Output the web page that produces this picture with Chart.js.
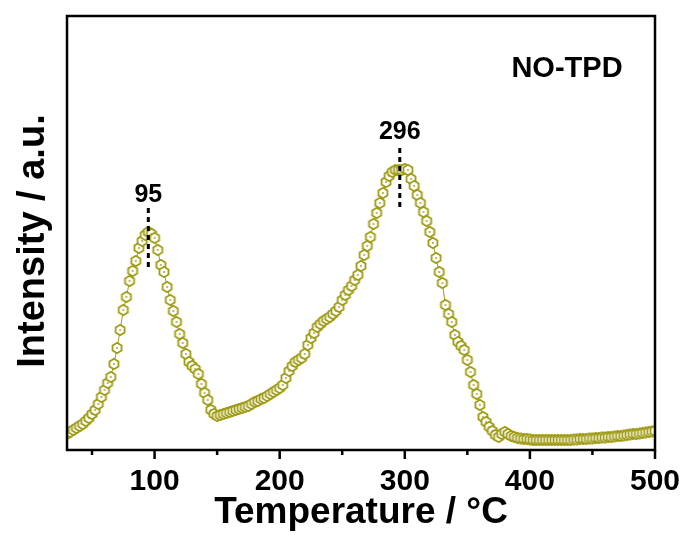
<!DOCTYPE html>
<html lang="en">

<head>
	<meta charset="UTF-8">
	<title>NO-TPD</title>
	<script src="https://cdn.jsdelivr.net/npm/chart.js@4.4.1/dist/chart.umd.min.js"></script>
	<style>
		body { margin: 0; background: #fff; }
		#box { width: 689px; height: 535px; }
	</style>
</head>

<body>
	<div id="box"><canvas id="tpd" width="689" height="535"></canvas></div>

	<script type="text/javascript">
	// temperature (°C) and NO desorption signal (a.u.)
	var temps = [
		30, 32.5, 35, 37.5, 40, 42.5, 45, 47.5, 50, 52.5,
		55, 57.5, 60, 62.5, 65, 67.5, 70, 72.5, 75, 77.5,
		80, 82.5, 85, 87.5, 90, 92.5, 95, 97.5, 100, 102.5,
		105, 107.5, 110, 112.5, 115, 117.5, 120, 122.5, 125, 127.5,
		130, 132.5, 135, 137.5, 140, 142.5, 145, 147.5, 150, 152.5,
		155, 157.5, 160, 162.5, 165, 167.5, 170, 172.5, 175, 177.5,
		180, 182.5, 185, 187.5, 190, 192.5, 195, 197.5, 200, 202.5,
		205, 207.5, 210, 212.5, 215, 217.5, 220, 222.5, 225, 227.5,
		230, 232.5, 235, 237.5, 240, 242.5, 245, 247.5, 250, 252.5,
		255, 257.5, 260, 262.5, 265, 267.5, 270, 272.5, 275, 277.5,
		280, 282.5, 285, 287.5, 290, 292.5, 295, 297.5, 300, 302.5,
		305, 307.5, 310, 312.5, 315, 317.5, 320, 322.5, 325, 327.5,
		330, 332.5, 335, 337.5, 340, 342.5, 345, 347.5, 350, 352.5,
		355, 357.5, 360, 362.5, 365, 367.5, 370, 372.5, 375, 377.5,
		380, 382.5, 385, 387.5, 390, 392.5, 395, 397.5, 400, 402.5,
		405, 407.5, 410, 412.5, 415, 417.5, 420, 422.5, 425, 427.5,
		430, 432.5, 435, 437.5, 440, 442.5, 445, 447.5, 450, 452.5,
		455, 457.5, 460, 462.5, 465, 467.5, 470, 472.5, 475, 477.5,
		480, 482.5, 485, 487.5, 490, 492.5, 495, 497.5, 500
	];
	var intensity = [
		16, 18, 20, 22, 24, 26, 29, 32, 36, 40,
		46, 53, 60, 67, 73, 86, 102, 120, 140, 153,
		169, 179, 189, 202, 209, 215, 218, 216, 212, 200,
		185, 178, 163, 150, 139, 128, 116, 107, 96, 88,
		84, 81, 76, 66, 57, 50, 40, 36, 34, 35,
		36, 37, 38, 39, 40, 41, 42, 43, 44, 46,
		48, 49, 51, 52, 54, 56, 58, 60, 62, 65,
		72, 79, 84, 88, 90, 92, 96, 105, 112, 117,
		123, 126, 129, 131, 133, 136, 139, 143, 150, 155,
		160, 164, 170, 175, 184, 195, 204, 213, 226, 237,
		247, 257, 268, 274, 278, 280, 280, 280, 281, 280,
		271, 264, 255, 247, 238, 229, 218, 207, 192, 178,
		167, 145, 136, 128, 115, 108, 104, 100, 90, 78,
		65, 56, 45, 33, 28, 23, 19, 15, 13, 16,
		18, 16, 14, 13, 12, 11.5, 11, 11, 10.5, 10,
		10, 10, 10, 10, 10, 10, 10, 10, 10, 10,
		10, 10, 10.5, 10.5, 11, 11, 11, 11.5, 11.5, 12,
		12, 12.5, 12.5, 13, 13, 13.5, 14, 14, 14.5, 15,
		15.5, 16, 16, 16.5, 17, 17.5, 18, 18.5, 19
	];
	var xMajorTicks = [100, 200, 300, 400, 500];
	var xMinorTicks = [50, 150, 250, 350, 450];
	var peakTemps = [95, 296];
	var peakLabels = ['95', '296'];

	// where the peak markers sit (in a.u.): dashed line from..to, label centre
	var peakMarks = [
		{ from: 180, to: 242, label: 255 },
		{ from: 242, to: 302, label: 318 }
	];

	var olive = '#9f9b14';
	var fontFam = '"Liberation Sans", Arial, sans-serif';

	// hollow hexagon with a dot in the middle
	function hexMarker() {
		var c = document.createElement('canvas');
		c.width = 14; c.height = 14;
		var g = c.getContext('2d');
		g.beginPath();
		for (var i = 0; i < 6; i++) {
			var a = -Math.PI / 2 + i * Math.PI / 3;
			var px = 7 + 5.2 * Math.cos(a), py = 7 + 5.2 * Math.sin(a);
			if (i === 0) g.moveTo(px, py); else g.lineTo(px, py);
		}
		g.closePath();
		g.fillStyle = '#fff';
		g.fill();
		g.lineWidth = 1.8;
		g.strokeStyle = olive;
		g.stroke();
		g.beginPath();
		g.arc(7, 7, 0.9, 0, Math.PI * 2);
		g.fillStyle = olive;
		g.fill();
		return c;
	}

	var framePlugin = {
		id: 'frame',
		afterDatasetsDraw: function(chart) {
			var ctx = chart.ctx, a = chart.chartArea;
			var xs = chart.scales.x, ys = chart.scales.y;
			ctx.save();
			ctx.strokeStyle = '#000';
			ctx.lineWidth = 2.5;
			ctx.strokeRect(a.left, a.top, a.right - a.left, a.bottom - a.top);

			// outward ticks on the bottom axis
			ctx.beginPath();
			xMajorTicks.forEach(function(v) {
				var px = xs.getPixelForValue(v);
				ctx.moveTo(px, a.bottom);
				ctx.lineTo(px, a.bottom + 9);
			});
			xMinorTicks.forEach(function(v) {
				var px = xs.getPixelForValue(v);
				ctx.moveTo(px, a.bottom);
				ctx.lineTo(px, a.bottom + 5);
			});
			ctx.stroke();

			// peak markers
			ctx.setLineDash([5, 4]);
			ctx.lineWidth = 3;
			peakTemps.forEach(function(t, i) {
				var px = xs.getPixelForValue(t);
				ctx.beginPath();
				ctx.moveTo(px, ys.getPixelForValue(peakMarks[i].to));
				ctx.lineTo(px, ys.getPixelForValue(peakMarks[i].from));
				ctx.stroke();
			});
			ctx.setLineDash([]);
			ctx.fillStyle = '#000';
			ctx.textAlign = 'center';
			ctx.textBaseline = 'middle';
			ctx.font = 'bold 25px ' + fontFam;
			peakTemps.forEach(function(t, i) {
				ctx.fillText(peakLabels[i], xs.getPixelForValue(t), ys.getPixelForValue(peakMarks[i].label));
			});

			ctx.font = 'bold 29px ' + fontFam;
			ctx.fillText('NO-TPD', 567, 69);

			// y title, a bit below the centre of the plot like the original
			ctx.translate(34, 241);
			ctx.rotate(-Math.PI / 2);
			ctx.font = 'bold 38px ' + fontFam;
			ctx.fillText('Intensity / a.u.', 0, 0);
			ctx.restore();
		}
	};

	Chart.defaults.animation = false;
	Chart.defaults.font.family = fontFam;
	Chart.defaults.color = '#000';

	new Chart(document.getElementById('tpd').getContext('2d'), {
		type: 'line',
		data: {
			datasets: [{
				data: temps.map(function(t, i) { return { x: t, y: intensity[i] }; }),
				borderColor: olive,
				borderWidth: 1,
				pointStyle: hexMarker(),
				pointRadius: 5,
				tension: 0,
				fill: false
			}]
		},
		options: {
			responsive: false,
			devicePixelRatio: 1,
			layout: { padding: { top: 16, right: 34, left: 0, bottom: 0 } },
			plugins: { legend: { display: false }, tooltip: { enabled: false } },
			scales: {
				x: {
					type: 'linear',
					min: 30,
					max: 500,
					grid: { display: false, drawTicks: false },
					border: { display: false },
					afterBuildTicks: function(scale) {
						scale.ticks = xMajorTicks.map(function(v) { return { value: v }; });
					},
					afterFit: function(scale) {
						scale.height = 85;
						scale.paddingLeft = 0;
						scale.paddingRight = 0;
					},
					ticks: {
						font: { size: 30, weight: 'bold' },
						padding: 14,
						maxRotation: 0,
						autoSkip: false
					},
					title: {
						display: true,
						text: 'Temperature / °C',
						font: { size: 37, weight: 'bold' },
						padding: { top: 8, bottom: 0 }
					}
				},
				y: {
					min: 0,
					max: 434,
					grid: { display: false, drawTicks: false },
					border: { display: false },
					ticks: { display: false },
					afterFit: function(scale) { scale.width = 67; }
				}
			}
		},
		plugins: [framePlugin]
	});
	</script>
</body>

</html>
